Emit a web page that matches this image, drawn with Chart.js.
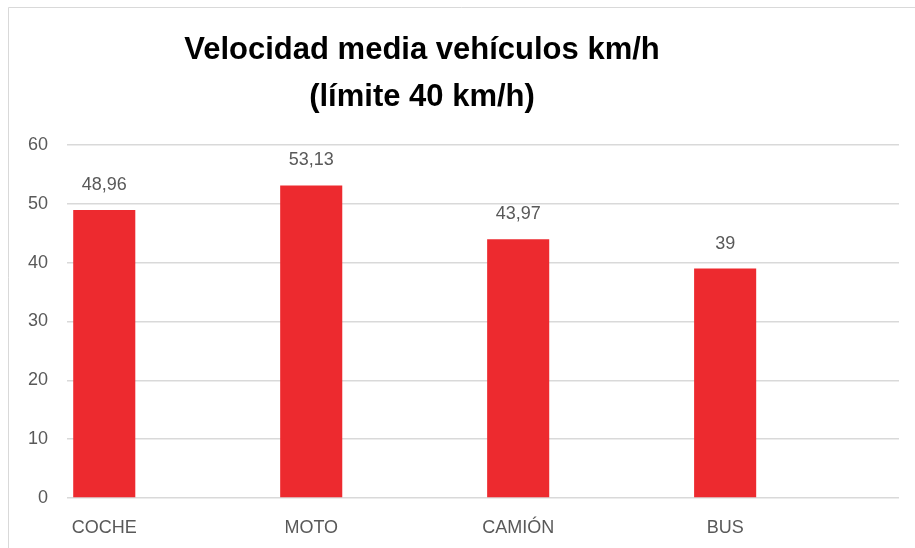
<!DOCTYPE html>
<html>
<head>
<meta charset="utf-8">
<script src="https://cdn.jsdelivr.net/npm/chart.js@4"></script>
<style>
  html, body { margin: 0; padding: 0; background: #fff; }
  #wrap { width: 915px; height: 548px; }
</style>
</head>
<body>
<div id="wrap"><canvas id="speedChart" width="915" height="548"></canvas></div>
<script>
// data
const vehicles = ['COCHE', 'MOTO', 'CAMIÓN', 'BUS'];
const avgSpeed = [48.96, 53.13, 43.97, 39];
const yTicks = [0, 10, 20, 30, 40, 50, 60];
const titleLines = ['Velocidad media vehículos km/h', '(límite 40 km/h)'];

const GREY_TEXT = '#595959';
const GRID = '#D9D9D9';
const BAR_RED = '#ED2A2F';

// thin frame like the spreadsheet chart border
const framePlugin = {
    id: 'frame',
    beforeDraw(chart) {
        const c = chart.ctx;
        c.save();
        c.fillStyle = '#fff';
        c.fillRect(0, 0, chart.width, chart.height);
        c.strokeStyle = GRID;
        c.lineWidth = 1;
        c.beginPath();
        c.moveTo(8.5, chart.height);
        c.lineTo(8.5, 7.5);
        c.lineTo(chart.width, 7.5);
        c.stroke();
        c.restore();
    }
};

// title sits a bit left of the canvas centre in the original, so draw it here
const titlePlugin = {
    id: 'offsetTitle',
    afterDraw(chart) {
        const c = chart.ctx;
        c.save();
        c.font = 'bold 31px "Liberation Sans", Arial, sans-serif';
        c.fillStyle = '#000';
        c.textAlign = 'center';
        c.textBaseline = 'alphabetic';
        c.fillText(titleLines[0], 422, 59);
        c.fillText(titleLines[1], 422, 106);
        c.restore();
    }
};

// value labels above the bars, decimal comma
const valueLabels = {
    id: 'valueLabels',
    afterDatasetsDraw(chart) {
        const c = chart.ctx;
        const meta = chart.getDatasetMeta(0);
        c.save();
        c.font = '18px "Liberation Sans", Arial, sans-serif';
        c.fillStyle = GREY_TEXT;
        c.textAlign = 'center';
        c.textBaseline = 'middle';
        meta.data.forEach((bar, i) => {
            const txt = String(avgSpeed[i]).replace('.', ',');
            c.fillText(txt, bar.x, bar.y - 25);
        });
        c.restore();
    }
};

new Chart(document.getElementById('speedChart').getContext('2d'), {
    type: 'bar',
    data: {
        datasets: [{
            data: avgSpeed.map((v, i) => ({ x: i, y: v })),
            backgroundColor: BAR_RED,
            borderWidth: 0,
            barPercentage: 0.3,
            categoryPercentage: 1
        }]
    },
    options: {
        responsive: false,
        animation: false,
        layout: { padding: { left: 0, right: 16, top: 145, bottom: 0 } },
        plugins: {
            legend: { display: false },
            tooltip: { enabled: false },
            title: { display: false }
        },
        scales: {
            x: {
                type: 'linear',
                min: -0.18,
                max: 3.84,
                bounds: 'data',
                offset: false,
                grid: { display: false, offset: false },
                border: { display: false },
                afterBuildTicks(scale) {
                    scale.ticks = vehicles.map((_, i) => ({ value: i }));
                },
                afterFit(scale) { scale.height = 50; },
                ticks: {
                    color: GREY_TEXT,
                    font: { family: '"Liberation Sans", Arial, sans-serif', size: 18 },
                    padding: 11,
                    maxRotation: 0,
                    callback: v => vehicles[v] ?? ''
                }
            },
            y: {
                min: 0,
                max: 60,
                afterBuildTicks(scale) {
                    scale.ticks = yTicks.map(v => ({ value: v }));
                },
                afterFit(scale) { scale.width = 67; },
                grid: { color: GRID, lineWidth: 1.5, drawTicks: false },
                border: { display: false },
                ticks: {
                    color: GREY_TEXT,
                    font: { family: '"Liberation Sans", Arial, sans-serif', size: 18 },
                    padding: 19
                }
            }
        }
    },
    plugins: [framePlugin, titlePlugin, valueLabels]
});
</script>
</body>
</html>
